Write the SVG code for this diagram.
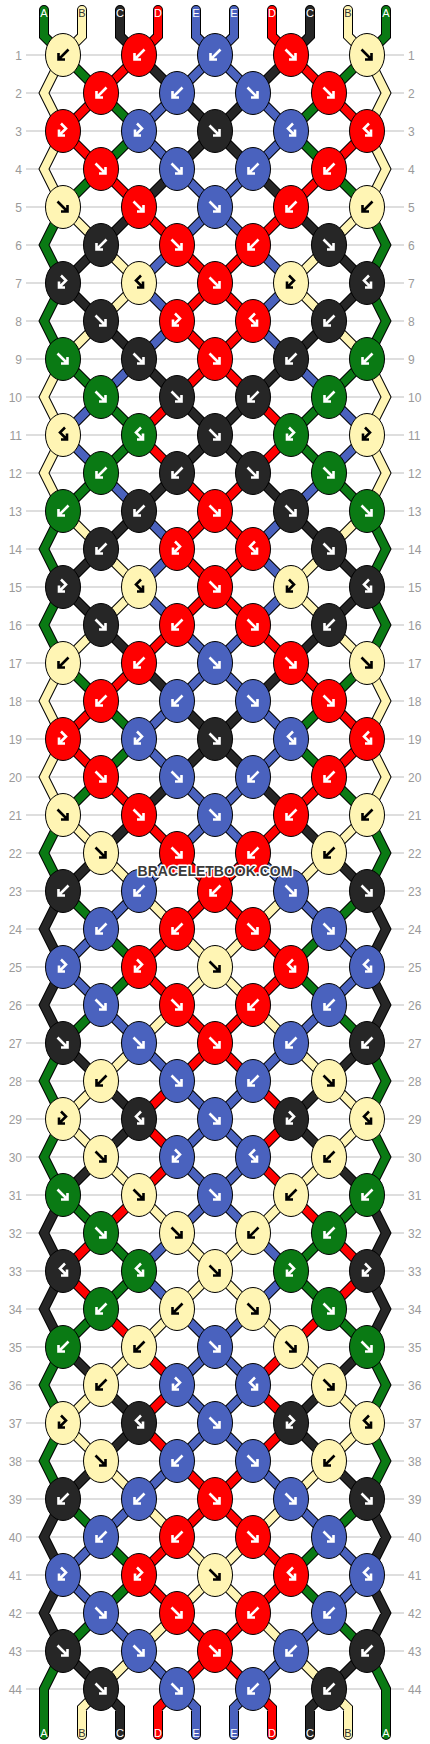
<svg xmlns="http://www.w3.org/2000/svg" xmlns:xlink="http://www.w3.org/1999/xlink" width="430" height="1744" viewBox="0 0 430 1744">
<style>
text{font-family:"Liberation Sans",Arial,sans-serif}
.num{font-size:12px;fill:#9a9a9a}
.nl{text-anchor:end}
.lab{font-size:11px;text-anchor:middle;fill:#fff}
.lab.b{fill:#333}
.grid{fill:none;stroke:#bdbdbd;stroke-width:1}
.ol{fill:none;stroke:#000;stroke-width:10;stroke-linecap:round;stroke-linejoin:miter}
.cG,.cY,.cK,.cR,.cU{fill:none;stroke-width:8;stroke-linecap:round;stroke-linejoin:miter}
.cG{stroke:#0a7a14}.cY{stroke:#fff5b4}.cK{stroke:#262626}.cR{stroke:#ff0000}.cU{stroke:#4a62be}
.kn ellipse{stroke:#000;stroke-width:1}
.G ellipse{fill:#0a7a14}.Y ellipse{fill:#fff5b4}.K ellipse{fill:#262626}.R ellipse{fill:#ff0000}.U ellipse{fill:#4a62be}
.kn use{stroke:#fff;fill:none;stroke-width:2.6;stroke-linejoin:miter}
.Y use{stroke:#000}
.wm{font-size:14px;font-weight:bold;text-anchor:middle;fill:#3a3a3a;stroke:#fff;stroke-width:3;paint-order:stroke;stroke-linejoin:round}
</style>
<defs>
<path id="aF" d="M-5.5-5.5L4.5 4.5M4.5-2V4.5H-2"/>
<path id="aB" d="M5.5-5.5L-4.5 4.5M-4.5-2V4.5H2"/>
<path id="aH1" d="M-2-7.5L3-2.5L-4 4.5M-4-1.5V4.5H2"/>
<path id="aH2" d="M2-7.5L-3-2.5L4 4.5M4-1.5V4.5H-2"/>
<path id="pG" d="M44 10L44 36L63 55M63 55L101 93M101 93L139 131M139 131L101 169M101 169L63 207M63 359L101 397M101 397L139 435M139 435L101 473M101 473L63 511M63 663L101 701M101 701L139 739M139 739L101 777M101 777L63 815M63 891L101 929M101 929L139 967M139 967L101 1005M101 1005L63 1043M63 1195L101 1233M101 1233L139 1271M139 1271L101 1309M101 1309L63 1347M63 1499L101 1537M101 1537L139 1575M139 1575L101 1613M101 1613L63 1651M63 207L44 245L63 283M63 283L44 321L63 359M63 511L44 549L63 587M63 587L44 625L63 663M63 815L44 853L63 891M63 1043L44 1081L63 1119M63 1119L44 1157L63 1195M63 1347L44 1385L63 1423M63 1423L44 1461L63 1499M63 1651L44 1689L44 1735"/>
<path id="pY" d="M82 10L82 36L63 55M63 207L101 245M101 245L139 283M139 283L101 321M101 321L63 359M63 511L101 549M101 549L139 587M139 587L101 625M101 625L63 663M63 815L101 853M101 853L139 891M139 891L177 929M177 929L215 967M215 967L177 1005M177 1005L139 1043M139 1043L101 1081M101 1081L63 1119M63 1119L101 1157M101 1157L139 1195M139 1195L177 1233M177 1233L215 1271M215 1271L177 1309M177 1309L139 1347M139 1347L101 1385M101 1385L63 1423M63 1423L101 1461M101 1461L139 1499M139 1499L177 1537M177 1537L215 1575M215 1575L177 1613M177 1613L139 1651M139 1651L101 1689M101 1689L82 1708L82 1735M63 55L44 93L63 131M63 131L44 169L63 207M63 359L44 397L63 435M63 435L44 473L63 511M63 663L44 701L63 739M63 739L44 777L63 815"/>
<path id="pK" d="M120 10L120 36L139 55M139 55L177 93M177 93L215 131M215 131L177 169M177 169L139 207M139 207L101 245M101 245L63 283M63 283L101 321M101 321L139 359M139 359L177 397M177 397L215 435M215 435L177 473M177 473L139 511M139 511L101 549M101 549L63 587M63 587L101 625M101 625L139 663M139 663L177 701M177 701L215 739M215 739L177 777M177 777L139 815M139 815L101 853M101 853L63 891M63 1043L101 1081M101 1081L139 1119M139 1119L101 1157M101 1157L63 1195M63 1347L101 1385M101 1385L139 1423M139 1423L101 1461M101 1461L63 1499M63 1651L101 1689M101 1689L120 1708L120 1735M63 891L44 929L63 967M63 967L44 1005L63 1043M63 1195L44 1233L63 1271M63 1271L44 1309L63 1347M63 1499L44 1537L63 1575M63 1575L44 1613L63 1651"/>
<path id="pR" d="M158 10L158 36L139 55M139 55L101 93M101 93L63 131M63 131L101 169M101 169L139 207M139 207L177 245M177 245L215 283M215 283L177 321M177 321L215 359M215 359L177 397M177 397L139 435M139 435L177 473M177 473L215 511M215 511L177 549M177 549L215 587M215 587L177 625M177 625L139 663M139 663L101 701M101 701L63 739M63 739L101 777M101 777L139 815M139 815L177 853M177 853L215 891M215 891L177 929M177 929L139 967M139 967L177 1005M177 1005L215 1043M215 1043L177 1081M177 1081L139 1119M139 1119L177 1157M177 1157L139 1195M139 1195L101 1233M101 1233L63 1271M63 1271L101 1309M101 1309L139 1347M139 1347L177 1385M177 1385L139 1423M139 1423L177 1461M177 1461L215 1499M215 1499L177 1537M177 1537L139 1575M139 1575L177 1613M177 1613L215 1651M215 1651L177 1689M177 1689L158 1708L158 1735"/>
<path id="pU" d="M196 10L196 36L215 55M215 55L177 93M177 93L139 131M139 131L177 169M177 169L215 207M215 207L177 245M177 245L139 283M139 283L177 321M177 321L139 359M139 359L101 397M101 397L63 435M63 435L101 473M101 473L139 511M139 511L177 549M177 549L139 587M139 587L177 625M177 625L215 663M215 663L177 701M177 701L139 739M139 739L177 777M177 777L215 815M215 815L177 853M177 853L139 891M139 891L101 929M101 929L63 967M63 967L101 1005M101 1005L139 1043M139 1043L177 1081M177 1081L215 1119M215 1119L177 1157M177 1157L215 1195M215 1195L177 1233M177 1233L139 1271M139 1271L177 1309M177 1309L215 1347M215 1347L177 1385M177 1385L215 1423M215 1423L177 1461M177 1461L139 1499M139 1499L101 1537M101 1537L63 1575M63 1575L101 1613M101 1613L139 1651M139 1651L177 1689M177 1689L196 1708L196 1735"/>
</defs>
<rect width="430" height="1744" fill="#fff"/>
<g id="grid">
<path class="grid" d="M26 55H404M26 93H404M26 131H404M26 169H404M26 207H404M26 245H404M26 283H404M26 321H404M26 359H404M26 397H404M26 435H404M26 473H404M26 511H404M26 549H404M26 587H404M26 625H404M26 663H404M26 701H404M26 739H404M26 777H404M26 815H404M26 853H404M26 891H404M26 929H404M26 967H404M26 1005H404M26 1043H404M26 1081H404M26 1119H404M26 1157H404M26 1195H404M26 1233H404M26 1271H404M26 1309H404M26 1347H404M26 1385H404M26 1423H404M26 1461H404M26 1499H404M26 1537H404M26 1575H404M26 1613H404M26 1651H404M26 1689H404"/>
<g class="num nl">
<text x="22" y="59.5">1</text><text x="22" y="97.5">2</text><text x="22" y="135.5">3</text><text x="22" y="173.5">4</text><text x="22" y="211.5">5</text><text x="22" y="249.5">6</text><text x="22" y="287.5">7</text><text x="22" y="325.5">8</text><text x="22" y="363.5">9</text><text x="22" y="401.5">10</text><text x="22" y="439.5">11</text><text x="22" y="477.5">12</text><text x="22" y="515.5">13</text><text x="22" y="553.5">14</text><text x="22" y="591.5">15</text><text x="22" y="629.5">16</text><text x="22" y="667.5">17</text><text x="22" y="705.5">18</text><text x="22" y="743.5">19</text><text x="22" y="781.5">20</text><text x="22" y="819.5">21</text><text x="22" y="857.5">22</text><text x="22" y="895.5">23</text><text x="22" y="933.5">24</text><text x="22" y="971.5">25</text><text x="22" y="1009.5">26</text><text x="22" y="1047.5">27</text><text x="22" y="1085.5">28</text><text x="22" y="1123.5">29</text><text x="22" y="1161.5">30</text><text x="22" y="1199.5">31</text><text x="22" y="1237.5">32</text><text x="22" y="1275.5">33</text><text x="22" y="1313.5">34</text><text x="22" y="1351.5">35</text><text x="22" y="1389.5">36</text><text x="22" y="1427.5">37</text><text x="22" y="1465.5">38</text><text x="22" y="1503.5">39</text><text x="22" y="1541.5">40</text><text x="22" y="1579.5">41</text><text x="22" y="1617.5">42</text><text x="22" y="1655.5">43</text><text x="22" y="1693.5">44</text>
</g>
<g class="num">
<text x="408" y="59.5">1</text><text x="408" y="97.5">2</text><text x="408" y="135.5">3</text><text x="408" y="173.5">4</text><text x="408" y="211.5">5</text><text x="408" y="249.5">6</text><text x="408" y="287.5">7</text><text x="408" y="325.5">8</text><text x="408" y="363.5">9</text><text x="408" y="401.5">10</text><text x="408" y="439.5">11</text><text x="408" y="477.5">12</text><text x="408" y="515.5">13</text><text x="408" y="553.5">14</text><text x="408" y="591.5">15</text><text x="408" y="629.5">16</text><text x="408" y="667.5">17</text><text x="408" y="705.5">18</text><text x="408" y="743.5">19</text><text x="408" y="781.5">20</text><text x="408" y="819.5">21</text><text x="408" y="857.5">22</text><text x="408" y="895.5">23</text><text x="408" y="933.5">24</text><text x="408" y="971.5">25</text><text x="408" y="1009.5">26</text><text x="408" y="1047.5">27</text><text x="408" y="1085.5">28</text><text x="408" y="1123.5">29</text><text x="408" y="1161.5">30</text><text x="408" y="1199.5">31</text><text x="408" y="1237.5">32</text><text x="408" y="1275.5">33</text><text x="408" y="1313.5">34</text><text x="408" y="1351.5">35</text><text x="408" y="1389.5">36</text><text x="408" y="1427.5">37</text><text x="408" y="1465.5">38</text><text x="408" y="1503.5">39</text><text x="408" y="1541.5">40</text><text x="408" y="1579.5">41</text><text x="408" y="1617.5">42</text><text x="408" y="1655.5">43</text><text x="408" y="1693.5">44</text>
</g>
</g>
<g id="connectors">
<g id="strL">
<use href="#pG" class="ol"/><use href="#pY" class="ol"/><use href="#pK" class="ol"/><use href="#pR" class="ol"/><use href="#pU" class="ol"/>
<use href="#pG" class="cG"/><use href="#pY" class="cY"/><use href="#pK" class="cK"/><use href="#pR" class="cR"/><use href="#pU" class="cU"/>
</g>
<use href="#strL" transform="matrix(-1 0 0 1 430 0)"/>
</g>
<g id="labels">
<text class="lab" x="44" y="17">A</text><text class="lab b" x="82" y="17">B</text><text class="lab" x="120" y="17">C</text><text class="lab" x="158" y="17">D</text><text class="lab" x="196" y="17">E</text><text class="lab" x="234" y="17">E</text><text class="lab" x="272" y="17">D</text><text class="lab" x="310" y="17">C</text><text class="lab b" x="348" y="17">B</text><text class="lab" x="386" y="17">A</text>
<text class="lab" x="44" y="1737">A</text><text class="lab b" x="82" y="1737">B</text><text class="lab" x="120" y="1737">C</text><text class="lab" x="158" y="1737">D</text><text class="lab" x="196" y="1737">E</text><text class="lab" x="234" y="1737">E</text><text class="lab" x="272" y="1737">D</text><text class="lab" x="310" y="1737">C</text><text class="lab b" x="348" y="1737">B</text><text class="lab" x="386" y="1737">A</text>
</g>
<g id="knots">
<g id="k1-1" class="kn Y" transform="translate(63 55)"><ellipse rx="17.5" ry="21.5"/><use href="#aB"/></g>
<g id="k1-2" class="kn R" transform="translate(139 55)"><ellipse rx="17.5" ry="21.5"/><use href="#aB"/></g>
<g id="k1-3" class="kn U" transform="translate(215 55)"><ellipse rx="17.5" ry="21.5"/><use href="#aB"/></g>
<g id="k1-4" class="kn R" transform="translate(291 55)"><ellipse rx="17.5" ry="21.5"/><use href="#aF"/></g>
<g id="k1-5" class="kn Y" transform="translate(367 55)"><ellipse rx="17.5" ry="21.5"/><use href="#aF"/></g>
<g id="k2-1" class="kn R" transform="translate(101 93)"><ellipse rx="17.5" ry="21.5"/><use href="#aB"/></g>
<g id="k2-2" class="kn U" transform="translate(177 93)"><ellipse rx="17.5" ry="21.5"/><use href="#aB"/></g>
<g id="k2-3" class="kn U" transform="translate(253 93)"><ellipse rx="17.5" ry="21.5"/><use href="#aF"/></g>
<g id="k2-4" class="kn R" transform="translate(329 93)"><ellipse rx="17.5" ry="21.5"/><use href="#aF"/></g>
<g id="k3-1" class="kn R" transform="translate(63 131)"><ellipse rx="17.5" ry="21.5"/><use href="#aH1"/></g>
<g id="k3-2" class="kn U" transform="translate(139 131)"><ellipse rx="17.5" ry="21.5"/><use href="#aH1"/></g>
<g id="k3-3" class="kn K" transform="translate(215 131)"><ellipse rx="17.5" ry="21.5"/><use href="#aF"/></g>
<g id="k3-4" class="kn U" transform="translate(291 131)"><ellipse rx="17.5" ry="21.5"/><use href="#aH2"/></g>
<g id="k3-5" class="kn R" transform="translate(367 131)"><ellipse rx="17.5" ry="21.5"/><use href="#aH2"/></g>
<g id="k4-1" class="kn R" transform="translate(101 169)"><ellipse rx="17.5" ry="21.5"/><use href="#aF"/></g>
<g id="k4-2" class="kn U" transform="translate(177 169)"><ellipse rx="17.5" ry="21.5"/><use href="#aF"/></g>
<g id="k4-3" class="kn U" transform="translate(253 169)"><ellipse rx="17.5" ry="21.5"/><use href="#aB"/></g>
<g id="k4-4" class="kn R" transform="translate(329 169)"><ellipse rx="17.5" ry="21.5"/><use href="#aB"/></g>
<g id="k5-1" class="kn Y" transform="translate(63 207)"><ellipse rx="17.5" ry="21.5"/><use href="#aF"/></g>
<g id="k5-2" class="kn R" transform="translate(139 207)"><ellipse rx="17.5" ry="21.5"/><use href="#aF"/></g>
<g id="k5-3" class="kn U" transform="translate(215 207)"><ellipse rx="17.5" ry="21.5"/><use href="#aF"/></g>
<g id="k5-4" class="kn R" transform="translate(291 207)"><ellipse rx="17.5" ry="21.5"/><use href="#aB"/></g>
<g id="k5-5" class="kn Y" transform="translate(367 207)"><ellipse rx="17.5" ry="21.5"/><use href="#aB"/></g>
<g id="k6-1" class="kn K" transform="translate(101 245)"><ellipse rx="17.5" ry="21.5"/><use href="#aB"/></g>
<g id="k6-2" class="kn R" transform="translate(177 245)"><ellipse rx="17.5" ry="21.5"/><use href="#aF"/></g>
<g id="k6-3" class="kn R" transform="translate(253 245)"><ellipse rx="17.5" ry="21.5"/><use href="#aB"/></g>
<g id="k6-4" class="kn K" transform="translate(329 245)"><ellipse rx="17.5" ry="21.5"/><use href="#aF"/></g>
<g id="k7-1" class="kn K" transform="translate(63 283)"><ellipse rx="17.5" ry="21.5"/><use href="#aH1"/></g>
<g id="k7-2" class="kn Y" transform="translate(139 283)"><ellipse rx="17.5" ry="21.5"/><use href="#aH2"/></g>
<g id="k7-3" class="kn R" transform="translate(215 283)"><ellipse rx="17.5" ry="21.5"/><use href="#aF"/></g>
<g id="k7-4" class="kn Y" transform="translate(291 283)"><ellipse rx="17.5" ry="21.5"/><use href="#aH1"/></g>
<g id="k7-5" class="kn K" transform="translate(367 283)"><ellipse rx="17.5" ry="21.5"/><use href="#aH2"/></g>
<g id="k8-1" class="kn K" transform="translate(101 321)"><ellipse rx="17.5" ry="21.5"/><use href="#aF"/></g>
<g id="k8-2" class="kn R" transform="translate(177 321)"><ellipse rx="17.5" ry="21.5"/><use href="#aH1"/></g>
<g id="k8-3" class="kn R" transform="translate(253 321)"><ellipse rx="17.5" ry="21.5"/><use href="#aH2"/></g>
<g id="k8-4" class="kn K" transform="translate(329 321)"><ellipse rx="17.5" ry="21.5"/><use href="#aB"/></g>
<g id="k9-1" class="kn G" transform="translate(63 359)"><ellipse rx="17.5" ry="21.5"/><use href="#aF"/></g>
<g id="k9-2" class="kn K" transform="translate(139 359)"><ellipse rx="17.5" ry="21.5"/><use href="#aF"/></g>
<g id="k9-3" class="kn R" transform="translate(215 359)"><ellipse rx="17.5" ry="21.5"/><use href="#aF"/></g>
<g id="k9-4" class="kn K" transform="translate(291 359)"><ellipse rx="17.5" ry="21.5"/><use href="#aB"/></g>
<g id="k9-5" class="kn G" transform="translate(367 359)"><ellipse rx="17.5" ry="21.5"/><use href="#aB"/></g>
<g id="k10-1" class="kn G" transform="translate(101 397)"><ellipse rx="17.5" ry="21.5"/><use href="#aF"/></g>
<g id="k10-2" class="kn K" transform="translate(177 397)"><ellipse rx="17.5" ry="21.5"/><use href="#aF"/></g>
<g id="k10-3" class="kn K" transform="translate(253 397)"><ellipse rx="17.5" ry="21.5"/><use href="#aB"/></g>
<g id="k10-4" class="kn G" transform="translate(329 397)"><ellipse rx="17.5" ry="21.5"/><use href="#aB"/></g>
<g id="k11-1" class="kn Y" transform="translate(63 435)"><ellipse rx="17.5" ry="21.5"/><use href="#aH2"/></g>
<g id="k11-2" class="kn G" transform="translate(139 435)"><ellipse rx="17.5" ry="21.5"/><use href="#aH2"/></g>
<g id="k11-3" class="kn K" transform="translate(215 435)"><ellipse rx="17.5" ry="21.5"/><use href="#aF"/></g>
<g id="k11-4" class="kn G" transform="translate(291 435)"><ellipse rx="17.5" ry="21.5"/><use href="#aH1"/></g>
<g id="k11-5" class="kn Y" transform="translate(367 435)"><ellipse rx="17.5" ry="21.5"/><use href="#aH1"/></g>
<g id="k12-1" class="kn G" transform="translate(101 473)"><ellipse rx="17.5" ry="21.5"/><use href="#aB"/></g>
<g id="k12-2" class="kn K" transform="translate(177 473)"><ellipse rx="17.5" ry="21.5"/><use href="#aB"/></g>
<g id="k12-3" class="kn K" transform="translate(253 473)"><ellipse rx="17.5" ry="21.5"/><use href="#aF"/></g>
<g id="k12-4" class="kn G" transform="translate(329 473)"><ellipse rx="17.5" ry="21.5"/><use href="#aF"/></g>
<g id="k13-1" class="kn G" transform="translate(63 511)"><ellipse rx="17.5" ry="21.5"/><use href="#aB"/></g>
<g id="k13-2" class="kn K" transform="translate(139 511)"><ellipse rx="17.5" ry="21.5"/><use href="#aB"/></g>
<g id="k13-3" class="kn R" transform="translate(215 511)"><ellipse rx="17.5" ry="21.5"/><use href="#aF"/></g>
<g id="k13-4" class="kn K" transform="translate(291 511)"><ellipse rx="17.5" ry="21.5"/><use href="#aF"/></g>
<g id="k13-5" class="kn G" transform="translate(367 511)"><ellipse rx="17.5" ry="21.5"/><use href="#aF"/></g>
<g id="k14-1" class="kn K" transform="translate(101 549)"><ellipse rx="17.5" ry="21.5"/><use href="#aB"/></g>
<g id="k14-2" class="kn R" transform="translate(177 549)"><ellipse rx="17.5" ry="21.5"/><use href="#aH1"/></g>
<g id="k14-3" class="kn R" transform="translate(253 549)"><ellipse rx="17.5" ry="21.5"/><use href="#aH2"/></g>
<g id="k14-4" class="kn K" transform="translate(329 549)"><ellipse rx="17.5" ry="21.5"/><use href="#aF"/></g>
<g id="k15-1" class="kn K" transform="translate(63 587)"><ellipse rx="17.5" ry="21.5"/><use href="#aH1"/></g>
<g id="k15-2" class="kn Y" transform="translate(139 587)"><ellipse rx="17.5" ry="21.5"/><use href="#aH2"/></g>
<g id="k15-3" class="kn R" transform="translate(215 587)"><ellipse rx="17.5" ry="21.5"/><use href="#aF"/></g>
<g id="k15-4" class="kn Y" transform="translate(291 587)"><ellipse rx="17.5" ry="21.5"/><use href="#aH1"/></g>
<g id="k15-5" class="kn K" transform="translate(367 587)"><ellipse rx="17.5" ry="21.5"/><use href="#aH2"/></g>
<g id="k16-1" class="kn K" transform="translate(101 625)"><ellipse rx="17.5" ry="21.5"/><use href="#aF"/></g>
<g id="k16-2" class="kn R" transform="translate(177 625)"><ellipse rx="17.5" ry="21.5"/><use href="#aB"/></g>
<g id="k16-3" class="kn R" transform="translate(253 625)"><ellipse rx="17.5" ry="21.5"/><use href="#aF"/></g>
<g id="k16-4" class="kn K" transform="translate(329 625)"><ellipse rx="17.5" ry="21.5"/><use href="#aB"/></g>
<g id="k17-1" class="kn Y" transform="translate(63 663)"><ellipse rx="17.5" ry="21.5"/><use href="#aB"/></g>
<g id="k17-2" class="kn R" transform="translate(139 663)"><ellipse rx="17.5" ry="21.5"/><use href="#aB"/></g>
<g id="k17-3" class="kn U" transform="translate(215 663)"><ellipse rx="17.5" ry="21.5"/><use href="#aF"/></g>
<g id="k17-4" class="kn R" transform="translate(291 663)"><ellipse rx="17.5" ry="21.5"/><use href="#aF"/></g>
<g id="k17-5" class="kn Y" transform="translate(367 663)"><ellipse rx="17.5" ry="21.5"/><use href="#aF"/></g>
<g id="k18-1" class="kn R" transform="translate(101 701)"><ellipse rx="17.5" ry="21.5"/><use href="#aB"/></g>
<g id="k18-2" class="kn U" transform="translate(177 701)"><ellipse rx="17.5" ry="21.5"/><use href="#aB"/></g>
<g id="k18-3" class="kn U" transform="translate(253 701)"><ellipse rx="17.5" ry="21.5"/><use href="#aF"/></g>
<g id="k18-4" class="kn R" transform="translate(329 701)"><ellipse rx="17.5" ry="21.5"/><use href="#aF"/></g>
<g id="k19-1" class="kn R" transform="translate(63 739)"><ellipse rx="17.5" ry="21.5"/><use href="#aH1"/></g>
<g id="k19-2" class="kn U" transform="translate(139 739)"><ellipse rx="17.5" ry="21.5"/><use href="#aH1"/></g>
<g id="k19-3" class="kn K" transform="translate(215 739)"><ellipse rx="17.5" ry="21.5"/><use href="#aF"/></g>
<g id="k19-4" class="kn U" transform="translate(291 739)"><ellipse rx="17.5" ry="21.5"/><use href="#aH2"/></g>
<g id="k19-5" class="kn R" transform="translate(367 739)"><ellipse rx="17.5" ry="21.5"/><use href="#aH2"/></g>
<g id="k20-1" class="kn R" transform="translate(101 777)"><ellipse rx="17.5" ry="21.5"/><use href="#aF"/></g>
<g id="k20-2" class="kn U" transform="translate(177 777)"><ellipse rx="17.5" ry="21.5"/><use href="#aF"/></g>
<g id="k20-3" class="kn U" transform="translate(253 777)"><ellipse rx="17.5" ry="21.5"/><use href="#aB"/></g>
<g id="k20-4" class="kn R" transform="translate(329 777)"><ellipse rx="17.5" ry="21.5"/><use href="#aB"/></g>
<g id="k21-1" class="kn Y" transform="translate(63 815)"><ellipse rx="17.5" ry="21.5"/><use href="#aF"/></g>
<g id="k21-2" class="kn R" transform="translate(139 815)"><ellipse rx="17.5" ry="21.5"/><use href="#aF"/></g>
<g id="k21-3" class="kn U" transform="translate(215 815)"><ellipse rx="17.5" ry="21.5"/><use href="#aF"/></g>
<g id="k21-4" class="kn R" transform="translate(291 815)"><ellipse rx="17.5" ry="21.5"/><use href="#aB"/></g>
<g id="k21-5" class="kn Y" transform="translate(367 815)"><ellipse rx="17.5" ry="21.5"/><use href="#aB"/></g>
<g id="k22-1" class="kn Y" transform="translate(101 853)"><ellipse rx="17.5" ry="21.5"/><use href="#aF"/></g>
<g id="k22-2" class="kn R" transform="translate(177 853)"><ellipse rx="17.5" ry="21.5"/><use href="#aF"/></g>
<g id="k22-3" class="kn R" transform="translate(253 853)"><ellipse rx="17.5" ry="21.5"/><use href="#aB"/></g>
<g id="k22-4" class="kn Y" transform="translate(329 853)"><ellipse rx="17.5" ry="21.5"/><use href="#aB"/></g>
<g id="k23-1" class="kn K" transform="translate(63 891)"><ellipse rx="17.5" ry="21.5"/><use href="#aB"/></g>
<g id="k23-2" class="kn U" transform="translate(139 891)"><ellipse rx="17.5" ry="21.5"/><use href="#aB"/></g>
<g id="k23-3" class="kn R" transform="translate(215 891)"><ellipse rx="17.5" ry="21.5"/><use href="#aB"/></g>
<g id="k23-4" class="kn U" transform="translate(291 891)"><ellipse rx="17.5" ry="21.5"/><use href="#aF"/></g>
<g id="k23-5" class="kn K" transform="translate(367 891)"><ellipse rx="17.5" ry="21.5"/><use href="#aF"/></g>
<g id="k24-1" class="kn U" transform="translate(101 929)"><ellipse rx="17.5" ry="21.5"/><use href="#aB"/></g>
<g id="k24-2" class="kn R" transform="translate(177 929)"><ellipse rx="17.5" ry="21.5"/><use href="#aB"/></g>
<g id="k24-3" class="kn R" transform="translate(253 929)"><ellipse rx="17.5" ry="21.5"/><use href="#aF"/></g>
<g id="k24-4" class="kn U" transform="translate(329 929)"><ellipse rx="17.5" ry="21.5"/><use href="#aF"/></g>
<g id="k25-1" class="kn U" transform="translate(63 967)"><ellipse rx="17.5" ry="21.5"/><use href="#aH1"/></g>
<g id="k25-2" class="kn R" transform="translate(139 967)"><ellipse rx="17.5" ry="21.5"/><use href="#aH1"/></g>
<g id="k25-3" class="kn Y" transform="translate(215 967)"><ellipse rx="17.5" ry="21.5"/><use href="#aF"/></g>
<g id="k25-4" class="kn R" transform="translate(291 967)"><ellipse rx="17.5" ry="21.5"/><use href="#aH2"/></g>
<g id="k25-5" class="kn U" transform="translate(367 967)"><ellipse rx="17.5" ry="21.5"/><use href="#aH2"/></g>
<g id="k26-1" class="kn U" transform="translate(101 1005)"><ellipse rx="17.5" ry="21.5"/><use href="#aF"/></g>
<g id="k26-2" class="kn R" transform="translate(177 1005)"><ellipse rx="17.5" ry="21.5"/><use href="#aF"/></g>
<g id="k26-3" class="kn R" transform="translate(253 1005)"><ellipse rx="17.5" ry="21.5"/><use href="#aB"/></g>
<g id="k26-4" class="kn U" transform="translate(329 1005)"><ellipse rx="17.5" ry="21.5"/><use href="#aB"/></g>
<g id="k27-1" class="kn K" transform="translate(63 1043)"><ellipse rx="17.5" ry="21.5"/><use href="#aF"/></g>
<g id="k27-2" class="kn U" transform="translate(139 1043)"><ellipse rx="17.5" ry="21.5"/><use href="#aF"/></g>
<g id="k27-3" class="kn R" transform="translate(215 1043)"><ellipse rx="17.5" ry="21.5"/><use href="#aF"/></g>
<g id="k27-4" class="kn U" transform="translate(291 1043)"><ellipse rx="17.5" ry="21.5"/><use href="#aB"/></g>
<g id="k27-5" class="kn K" transform="translate(367 1043)"><ellipse rx="17.5" ry="21.5"/><use href="#aB"/></g>
<g id="k28-1" class="kn Y" transform="translate(101 1081)"><ellipse rx="17.5" ry="21.5"/><use href="#aB"/></g>
<g id="k28-2" class="kn U" transform="translate(177 1081)"><ellipse rx="17.5" ry="21.5"/><use href="#aF"/></g>
<g id="k28-3" class="kn U" transform="translate(253 1081)"><ellipse rx="17.5" ry="21.5"/><use href="#aB"/></g>
<g id="k28-4" class="kn Y" transform="translate(329 1081)"><ellipse rx="17.5" ry="21.5"/><use href="#aF"/></g>
<g id="k29-1" class="kn Y" transform="translate(63 1119)"><ellipse rx="17.5" ry="21.5"/><use href="#aH1"/></g>
<g id="k29-2" class="kn K" transform="translate(139 1119)"><ellipse rx="17.5" ry="21.5"/><use href="#aH2"/></g>
<g id="k29-3" class="kn U" transform="translate(215 1119)"><ellipse rx="17.5" ry="21.5"/><use href="#aF"/></g>
<g id="k29-4" class="kn K" transform="translate(291 1119)"><ellipse rx="17.5" ry="21.5"/><use href="#aH1"/></g>
<g id="k29-5" class="kn Y" transform="translate(367 1119)"><ellipse rx="17.5" ry="21.5"/><use href="#aH2"/></g>
<g id="k30-1" class="kn Y" transform="translate(101 1157)"><ellipse rx="17.5" ry="21.5"/><use href="#aF"/></g>
<g id="k30-2" class="kn U" transform="translate(177 1157)"><ellipse rx="17.5" ry="21.5"/><use href="#aH1"/></g>
<g id="k30-3" class="kn U" transform="translate(253 1157)"><ellipse rx="17.5" ry="21.5"/><use href="#aH2"/></g>
<g id="k30-4" class="kn Y" transform="translate(329 1157)"><ellipse rx="17.5" ry="21.5"/><use href="#aB"/></g>
<g id="k31-1" class="kn G" transform="translate(63 1195)"><ellipse rx="17.5" ry="21.5"/><use href="#aF"/></g>
<g id="k31-2" class="kn Y" transform="translate(139 1195)"><ellipse rx="17.5" ry="21.5"/><use href="#aF"/></g>
<g id="k31-3" class="kn U" transform="translate(215 1195)"><ellipse rx="17.5" ry="21.5"/><use href="#aF"/></g>
<g id="k31-4" class="kn Y" transform="translate(291 1195)"><ellipse rx="17.5" ry="21.5"/><use href="#aB"/></g>
<g id="k31-5" class="kn G" transform="translate(367 1195)"><ellipse rx="17.5" ry="21.5"/><use href="#aB"/></g>
<g id="k32-1" class="kn G" transform="translate(101 1233)"><ellipse rx="17.5" ry="21.5"/><use href="#aF"/></g>
<g id="k32-2" class="kn Y" transform="translate(177 1233)"><ellipse rx="17.5" ry="21.5"/><use href="#aF"/></g>
<g id="k32-3" class="kn Y" transform="translate(253 1233)"><ellipse rx="17.5" ry="21.5"/><use href="#aB"/></g>
<g id="k32-4" class="kn G" transform="translate(329 1233)"><ellipse rx="17.5" ry="21.5"/><use href="#aB"/></g>
<g id="k33-1" class="kn K" transform="translate(63 1271)"><ellipse rx="17.5" ry="21.5"/><use href="#aH2"/></g>
<g id="k33-2" class="kn G" transform="translate(139 1271)"><ellipse rx="17.5" ry="21.5"/><use href="#aH2"/></g>
<g id="k33-3" class="kn Y" transform="translate(215 1271)"><ellipse rx="17.5" ry="21.5"/><use href="#aF"/></g>
<g id="k33-4" class="kn G" transform="translate(291 1271)"><ellipse rx="17.5" ry="21.5"/><use href="#aH1"/></g>
<g id="k33-5" class="kn K" transform="translate(367 1271)"><ellipse rx="17.5" ry="21.5"/><use href="#aH1"/></g>
<g id="k34-1" class="kn G" transform="translate(101 1309)"><ellipse rx="17.5" ry="21.5"/><use href="#aB"/></g>
<g id="k34-2" class="kn Y" transform="translate(177 1309)"><ellipse rx="17.5" ry="21.5"/><use href="#aB"/></g>
<g id="k34-3" class="kn Y" transform="translate(253 1309)"><ellipse rx="17.5" ry="21.5"/><use href="#aF"/></g>
<g id="k34-4" class="kn G" transform="translate(329 1309)"><ellipse rx="17.5" ry="21.5"/><use href="#aF"/></g>
<g id="k35-1" class="kn G" transform="translate(63 1347)"><ellipse rx="17.5" ry="21.5"/><use href="#aB"/></g>
<g id="k35-2" class="kn Y" transform="translate(139 1347)"><ellipse rx="17.5" ry="21.5"/><use href="#aB"/></g>
<g id="k35-3" class="kn U" transform="translate(215 1347)"><ellipse rx="17.5" ry="21.5"/><use href="#aF"/></g>
<g id="k35-4" class="kn Y" transform="translate(291 1347)"><ellipse rx="17.5" ry="21.5"/><use href="#aF"/></g>
<g id="k35-5" class="kn G" transform="translate(367 1347)"><ellipse rx="17.5" ry="21.5"/><use href="#aF"/></g>
<g id="k36-1" class="kn Y" transform="translate(101 1385)"><ellipse rx="17.5" ry="21.5"/><use href="#aB"/></g>
<g id="k36-2" class="kn U" transform="translate(177 1385)"><ellipse rx="17.5" ry="21.5"/><use href="#aH1"/></g>
<g id="k36-3" class="kn U" transform="translate(253 1385)"><ellipse rx="17.5" ry="21.5"/><use href="#aH2"/></g>
<g id="k36-4" class="kn Y" transform="translate(329 1385)"><ellipse rx="17.5" ry="21.5"/><use href="#aF"/></g>
<g id="k37-1" class="kn Y" transform="translate(63 1423)"><ellipse rx="17.5" ry="21.5"/><use href="#aH1"/></g>
<g id="k37-2" class="kn K" transform="translate(139 1423)"><ellipse rx="17.5" ry="21.5"/><use href="#aH2"/></g>
<g id="k37-3" class="kn U" transform="translate(215 1423)"><ellipse rx="17.5" ry="21.5"/><use href="#aF"/></g>
<g id="k37-4" class="kn K" transform="translate(291 1423)"><ellipse rx="17.5" ry="21.5"/><use href="#aH1"/></g>
<g id="k37-5" class="kn Y" transform="translate(367 1423)"><ellipse rx="17.5" ry="21.5"/><use href="#aH2"/></g>
<g id="k38-1" class="kn Y" transform="translate(101 1461)"><ellipse rx="17.5" ry="21.5"/><use href="#aF"/></g>
<g id="k38-2" class="kn U" transform="translate(177 1461)"><ellipse rx="17.5" ry="21.5"/><use href="#aB"/></g>
<g id="k38-3" class="kn U" transform="translate(253 1461)"><ellipse rx="17.5" ry="21.5"/><use href="#aF"/></g>
<g id="k38-4" class="kn Y" transform="translate(329 1461)"><ellipse rx="17.5" ry="21.5"/><use href="#aB"/></g>
<g id="k39-1" class="kn K" transform="translate(63 1499)"><ellipse rx="17.5" ry="21.5"/><use href="#aB"/></g>
<g id="k39-2" class="kn U" transform="translate(139 1499)"><ellipse rx="17.5" ry="21.5"/><use href="#aB"/></g>
<g id="k39-3" class="kn R" transform="translate(215 1499)"><ellipse rx="17.5" ry="21.5"/><use href="#aF"/></g>
<g id="k39-4" class="kn U" transform="translate(291 1499)"><ellipse rx="17.5" ry="21.5"/><use href="#aF"/></g>
<g id="k39-5" class="kn K" transform="translate(367 1499)"><ellipse rx="17.5" ry="21.5"/><use href="#aF"/></g>
<g id="k40-1" class="kn U" transform="translate(101 1537)"><ellipse rx="17.5" ry="21.5"/><use href="#aB"/></g>
<g id="k40-2" class="kn R" transform="translate(177 1537)"><ellipse rx="17.5" ry="21.5"/><use href="#aB"/></g>
<g id="k40-3" class="kn R" transform="translate(253 1537)"><ellipse rx="17.5" ry="21.5"/><use href="#aF"/></g>
<g id="k40-4" class="kn U" transform="translate(329 1537)"><ellipse rx="17.5" ry="21.5"/><use href="#aF"/></g>
<g id="k41-1" class="kn U" transform="translate(63 1575)"><ellipse rx="17.5" ry="21.5"/><use href="#aH1"/></g>
<g id="k41-2" class="kn R" transform="translate(139 1575)"><ellipse rx="17.5" ry="21.5"/><use href="#aH1"/></g>
<g id="k41-3" class="kn Y" transform="translate(215 1575)"><ellipse rx="17.5" ry="21.5"/><use href="#aF"/></g>
<g id="k41-4" class="kn R" transform="translate(291 1575)"><ellipse rx="17.5" ry="21.5"/><use href="#aH2"/></g>
<g id="k41-5" class="kn U" transform="translate(367 1575)"><ellipse rx="17.5" ry="21.5"/><use href="#aH2"/></g>
<g id="k42-1" class="kn U" transform="translate(101 1613)"><ellipse rx="17.5" ry="21.5"/><use href="#aF"/></g>
<g id="k42-2" class="kn R" transform="translate(177 1613)"><ellipse rx="17.5" ry="21.5"/><use href="#aF"/></g>
<g id="k42-3" class="kn R" transform="translate(253 1613)"><ellipse rx="17.5" ry="21.5"/><use href="#aB"/></g>
<g id="k42-4" class="kn U" transform="translate(329 1613)"><ellipse rx="17.5" ry="21.5"/><use href="#aB"/></g>
<g id="k43-1" class="kn K" transform="translate(63 1651)"><ellipse rx="17.5" ry="21.5"/><use href="#aF"/></g>
<g id="k43-2" class="kn U" transform="translate(139 1651)"><ellipse rx="17.5" ry="21.5"/><use href="#aF"/></g>
<g id="k43-3" class="kn R" transform="translate(215 1651)"><ellipse rx="17.5" ry="21.5"/><use href="#aF"/></g>
<g id="k43-4" class="kn U" transform="translate(291 1651)"><ellipse rx="17.5" ry="21.5"/><use href="#aB"/></g>
<g id="k43-5" class="kn K" transform="translate(367 1651)"><ellipse rx="17.5" ry="21.5"/><use href="#aB"/></g>
<g id="k44-1" class="kn K" transform="translate(101 1689)"><ellipse rx="17.5" ry="21.5"/><use href="#aF"/></g>
<g id="k44-2" class="kn U" transform="translate(177 1689)"><ellipse rx="17.5" ry="21.5"/><use href="#aF"/></g>
<g id="k44-3" class="kn U" transform="translate(253 1689)"><ellipse rx="17.5" ry="21.5"/><use href="#aB"/></g>
<g id="k44-4" class="kn K" transform="translate(329 1689)"><ellipse rx="17.5" ry="21.5"/><use href="#aB"/></g>
</g>
<text id="watermark" class="wm" x="215" y="876">BRACELETBOOK.COM</text>
</svg>
